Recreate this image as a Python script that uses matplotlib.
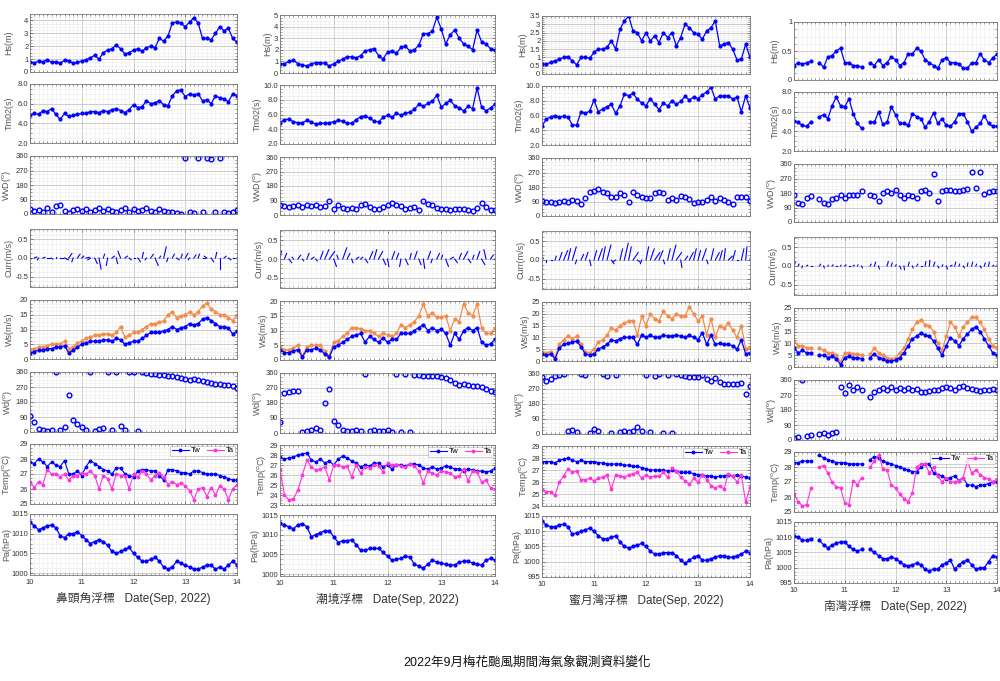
import numpy as np
import matplotlib
matplotlib.use('Agg')
import matplotlib.pyplot as plt
from matplotlib.ticker import MultipleLocator, AutoMinorLocator, FormatStrFormatter, FuncFormatter

plt.rcParams['font.family'] = ['Liberation Sans Narrow', 'Liberation Sans', 'Noto Sans CJK TC', 'DejaVu Sans']

nan = np.nan
hours = np.arange(0, 97, 2)          # every 2 h, 10 Sep 00:00 -> 14 Sep 00:00
day = 10 + hours / 24

names = ['鼻頭角浮標', '潮境浮標', '蜜月灣浮標', '南灣浮標']
title = '2022年9月梅花颱風期間海氣象觀測資料變化'

# ---- 鼻頭角浮標 ----
hs1 = [0.8,0.7,0.85,0.8,0.95,0.75,0.8,0.7,0.9,0.85,0.7,0.75,0.85,0.95,1.1,1.3,1.0,1.5,1.7,1.8,2.1,1.8,1.4,1.5,1.7,
       1.8,1.6,1.9,2.0,1.9,2.6,2.4,2.8,3.8,3.9,3.8,3.5,3.9,4.2,3.8,2.6,2.6,2.5,3.0,3.5,3.2,3.4,2.6,2.3]
tm1 = [4.8,5.0,4.9,5.3,5.2,5.5,4.9,4.4,5.0,4.7,4.8,4.9,5.0,5.0,5.2,5.2,5.1,5.3,5.2,5.4,5.5,5.3,5.1,5.4,5.9,
       5.6,5.7,6.3,6.0,6.1,6.3,5.9,5.8,6.8,7.3,7.4,6.7,7.0,6.9,7.0,6.3,6.4,6.0,6.8,6.6,6.5,6.2,7.0,6.8]
wvd1 = [30,20,25,15,40,10,50,55,20,5,25,30,20,30,15,25,35,20,30,20,15,25,35,15,30,
        20,25,35,20,15,30,20,10,15,5,0,350,10,5,350,10,350,340,15,350,10,5,15,25]
cu1 = [0.05,0.1,-0.05,0.08,0.1,0.05,0.0,0.1,0.15,0.12,-0.05,0.1,0.08,0.12,-0.1,0.1,0.08,0.05,-0.05,0.1,0.05,-0.1,0.1,0.08,0.05,
       0.1,0.05,-0.05,0.1,0.12,0.05,0.1,-0.05,0.08,0.1,0.05,0.1,-0.05,0.08,0.05,0.1,-0.1,0.1,0.05,0.0,0.08,0.1,0.05,0.05]
cv1 = [-0.02,0.03,-0.05,0.02,0.0,-0.03,0.02,0.0,-0.05,0.12,-0.1,0.1,0.05,0.02,-0.05,-0.15,-0.3,0.1,-0.2,0.05,-0.15,0.18,0.05,-0.05,0.0,
       -0.1,0.15,-0.05,0.1,-0.2,0.05,0.3,-0.1,0.1,-0.05,0.1,0.12,-0.05,0.08,0.1,0.0,0.05,-0.1,0.15,-0.3,0.05,-0.05,0.0,0.02]
ws1 = [2,2.5,3,3,3.5,3.5,4,4,4.5,2,3,4,5,5.5,6,6,6,6.5,6.5,6,7,6.5,5,5.5,6,
       6,7,8,9,9,9,9.5,10,11,10,10.5,11,12,11.5,12,13.5,14,13,12,11,11,10.5,8.5,9.5]
wg1 = [3,3.5,4,4,4.5,5,5,5,6,3.5,4,5.5,6,7,7.5,8,8,8.5,8.5,8,9,11,7.5,8,9,
       9,10,11,12,12,12.5,13,15,16,14,14.5,15,16,15,16,18,19,17,16,15,15,14,13,15]
wd1 = [95,60,20,10,5,10,360,15,30,225,70,50,30,10,360,5,20,25,360,10,360,35,15,360,360,
       5,358,355,350,348,345,340,338,335,330,325,320,315,318,312,305,300,295,290,288,285,280,275,265]
tw1 = [27.8,27.7,28.0,27.8,27.5,27.8,27.6,27.5,27.9,27.0,27.0,27.2,26.9,27.5,27.9,27.7,27.5,27.3,27.2,27.0,27.4,27.4,27.0,26.9,26.8,
       27.2,27.3,27.3,27.2,27.2,26.9,26.6,27.3,27.3,27.2,27.1,27.1,27.0,27.2,27.2,27.1,27.0,27.0,27.0,26.9,26.8,26.7,26.6,26.6]
ta1 = [26.5,26.1,26.5,26.3,27.3,27.0,27.0,26.8,27.0,26.6,26.9,26.9,27.1,27.0,27.2,26.9,26.0,26.9,26.7,26.0,27.0,26.9,26.9,26.0,27.0,
       26.8,27.2,27.0,26.6,26.9,27.1,26.8,26.3,26.5,26.3,26.4,26.2,25.9,25.3,26.0,26.1,25.5,26.1,25.6,26.2,26.0,25.3,26.0,26.3]
pa1 = [1013,1012,1011,1011.5,1012,1012.2,1011.5,1009.5,1009,1010,1010,1010.5,1009.5,1008.5,1007.5,1008,1008.5,1008,1007,1005.5,
       1005,1005.5,1006,1006.5,1005,1004,1003,1003,1003.5,1004,1003,1001.5,1001,1001.5,1003,1002.5,1002,1001.5,1001,1001,
       1001.5,1002,1002,1001,1001.5,1001,1002,1003,1002]

# ---- 潮境浮標 ----
hs2 = [0.8,0.8,1.0,1.1,0.8,0.7,0.6,0.8,0.9,0.9,0.85,0.6,0.8,1.0,1.2,1.4,1.4,1.3,1.5,1.9,2.0,2.1,1.5,1.2,1.8,
       1.9,1.7,2.2,2.3,1.9,2.0,2.4,3.4,3.4,3.6,4.8,3.8,2.5,3.3,3.7,3.0,2.5,2.3,2.0,3.7,2.7,2.5,2.1,2.0]
tm2 = [4.9,5.3,5.4,5.0,4.9,4.9,5.2,5.0,4.7,4.8,4.8,4.9,5.0,5.2,5.1,4.8,4.8,5.3,5.7,5.8,5.5,5.1,5.0,5.6,5.9,
       5.6,6.2,5.9,6.2,6.3,6.7,7.4,7.1,7.5,7.8,8.6,7.0,7.5,7.9,7.2,6.9,6.5,7.1,6.8,9.6,7.0,6.5,6.9,7.4]
wvd2 = [60,55,50,55,60,50,65,55,60,50,55,90,40,60,45,40,45,40,60,70,50,40,35,50,60,
        75,60,55,40,45,50,30,85,70,60,45,35,40,30,40,35,40,30,25,45,75,50,30,30]
cu2 = [0.05,0.08,0.1,-0.05,0.1,0.05,0.08,0.1,0.05,0.1,0.15,0.2,0.1,-0.05,0.15,0.1,0.05,0.1,0.08,0.1,0.12,0.1,0.15,0.1,0.05,
       0.1,0.08,-0.05,0.1,0.05,0.1,0.08,0.05,0.1,-0.05,0.1,0.05,0.1,0.12,0.1,0.08,0.15,0.1,0.05,0.1,0.12,-0.08,0.1,0.05]
cv2 = [0.2,0.15,-0.1,0.05,0.1,-0.05,0.15,0.05,-0.05,0.2,0.25,0.2,-0.2,0.1,0.3,0.15,-0.1,0.05,0.05,-0.1,0.2,0.25,0.2,-0.15,-0.2,
       0.2,0.15,-0.2,-0.15,0.15,0.2,-0.15,-0.25,0.2,-0.1,0.15,0.1,-0.2,0.05,-0.1,0.15,0.2,-0.1,0.1,0.2,-0.15,0.25,0.1,-0.15]
ws2 = [3.5,2.5,2.5,3,3.5,1,3.5,3.5,4,3.5,2,1,4.5,5,6,7,8,8.5,9,6,8,7,6,7.5,6,
       7,7,9,9,9,10,11,12,10,11,10,10.5,9,5,9,7,10,11,10,11,6,5,5.5,7]
wg2 = [4.5,3.5,3.5,4,5,1.5,4.5,5,5,5,3,1.5,6,6.5,8,9,11,11,10.5,10,10,9,8,9,8.5,
       8,9,12,11,12,13,15,19,15,16,14.5,14.5,15,10,14,13,19,16,15,19,11,9,9,11]
wd2 = [65,240,245,250,255,5,15,20,30,20,180,265,75,50,20,10,15,20,10,355,10,20,15,10,20,
       5,355,5,355,5,350,350,345,345,340,340,335,330,320,300,290,295,290,285,280,275,265,255,245]
tw2 = [27.8,27.6,27.7,27.8,28.0,28.1,28.2,27.5,27.3,27.6,27.2,27.4,27.0,27.6,27.9,27.7,27.4,27.2,26.8,27.0,26.9,27.2,27.2,26.8,27.0,
       26.6,27.0,27.0,26.9,27.1,27.1,27.0,26.7,26.6,26.8,26.6,26.7,26.9,26.8,26.6,26.6,26.4,26.6,26.5,26.4,26.4,26.3,26.4,26.7]
ta2 = [26.5,24.0,23.5,23.6,24.5,26.0,27.5,26.8,26.5,26.6,26.8,25.5,27.0,27.0,26.8,26.9,25.8,27.0,26.2,26.8,26.7,27.0,26.9,26.3,27.2,
       27.0,27.0,26.9,26.8,27.1,26.9,26.4,25.2,26.4,26.2,26.0,26.4,26.3,26.2,25.8,25.9,26.6,25.4,26.4,26.3,25.3,25.5,24.7,24.6]
pa2 = [1013,1012.5,1012,1011.5,1012.5,1012.8,1012,1009.5,1010,1010.5,1011,1011,1009.5,1008,1008.5,1008.5,1008.7,1007.5,1006,1006,
       1006.5,1006.5,1006.5,1005.5,1004.5,1003.5,1003.7,1004,1004.5,1004.3,1002.5,1002,1001.5,1002.5,1003.5,1003,1002.8,1002.5,1002.3,1002.3,
       1003,1003.3,1003.2,1002.8,1002.5,1002.3,1003.5,1004,1003.5]

# ---- 蜜月灣浮標 ----
hs3 = [0.6,0.6,0.7,0.8,0.9,1.0,1.05,0.8,0.55,1.0,1.0,0.95,1.3,1.5,1.5,1.6,2.0,1.5,2.7,3.2,3.5,2.6,2.5,2.0,2.5,
       2.0,2.3,1.9,2.5,2.2,2.5,1.7,2.2,3.0,2.8,2.5,2.4,2.1,2.6,2.8,3.2,1.7,1.8,1.9,1.5,0.85,0.9,1.8,1.0]
tm3 = [4.6,5.5,5.8,6.0,5.8,5.9,5.8,4.7,4.7,6.5,6.3,6.6,8.1,6.5,6.9,7.2,7.5,6.3,7.3,8.9,8.7,9.0,8.2,7.7,7.3,
       8.3,7.5,6.8,7.7,7.3,8.0,7.5,7.9,8.6,8.1,8.5,8.3,8.8,9.2,9.8,8.2,8.7,8.6,8.7,8.2,8.5,6.5,8.7,7.0]
wvd3 = [95,85,90,80,90,95,85,100,95,75,110,150,155,170,150,145,115,120,145,130,90,150,130,115,110,
        110,145,150,140,100,110,100,125,115,105,80,85,85,100,120,95,110,100,90,75,120,115,115,95]
cu3 = [0.05,0.0,0.05,0.05,0.1,0.15,0.1,0.15,-0.05,0.1,0.1,0.05,0.1,0.15,0.1,0.15,0.1,-0.1,0.1,0.15,0.1,0.2,0.1,-0.05,0.1,
       0.15,0.2,0.15,0.05,0.1,0.15,0.2,0.05,0.1,0.15,0.1,0.1,0.15,0.05,0.1,0.15,0.1,0.05,0.15,0.1,0.05,0.1,0.05,0.1]
cv3 = [0.05,-0.05,0.0,0.1,0.2,0.25,0.3,0.35,-0.1,0.15,0.2,-0.15,0.25,0.3,0.35,0.4,-0.1,-0.05,0.3,0.45,0.35,0.2,-0.05,-0.1,0.35,
       0.3,0.2,0.25,-0.1,0.3,0.4,0.2,-0.2,0.1,0.2,0.3,0.25,0.3,-0.1,0.3,0.2,0.25,0.3,0.1,0.25,0.0,0.3,0.35,0.4]
ws3 = [3,2.5,3,1,5.5,7,7.5,8,8.5,6,3,2.5,3,5,6,7,9,8.5,9.5,10,10,10,7,11,10,
       11,10,10,11,10.5,10.5,11,10.5,10,11,10,9,12,7,11,7,7.5,7,7,6.5,5,9,3,3.5]
wg3 = [4,3.5,4,1.5,7,9,10.5,9.5,10.5,7,4,3.5,5,8,9,11,14,13,15,16,17,17,11,19,15,
       20,18,17,21,19,18,20,19,19,23,20,17,19,11,18,10,15,14,16,13,10,15,5,6]
wd3 = [345,320,330,350,355,360,20,25,15,360,355,5,30,20,360,350,5,355,15,20,10,20,40,20,355,
       10,350,360,5,355,5,360,355,350,345,345,340,355,330,320,335,310,300,300,300,300,305,240,290]
tw3 = [27.7,27.7,27.7,27.6,27.8,27.9,28.0,27.8,27.7,27.8,27.7,27.7,27.7,27.6,27.6,27.5,27.5,27.5,27.5,27.4,27.4,27.3,27.3,27.2,27.1,
       27.0,27.0,27.0,27.0,26.9,27.0,26.9,26.8,26.8,26.8,26.7,26.6,26.6,26.5,26.5,26.4,26.5,26.5,26.6,26.5,26.6,26.5,26.4,26.3]
ta3 = [25.4,25.2,25.2,24.9,26.0,26.5,27.1,26.8,26.9,26.2,26.2,26.3,26.1,26.3,26.4,26.6,25.4,26.6,26.5,26.4,26.6,26.7,26.8,26.3,26.6,
       26.4,26.5,26.5,26.8,26.4,27.2,26.9,26.4,26.1,25.8,26.3,26.0,26.6,26.2,25.7,25.5,25.7,25.4,26.7,26.5,26.0,26.6,24.3,25.6]
pa3 = [1013.5,1012,1011.5,1011.5,1012,1012.3,1011.5,1009,1009.5,1010,1010.5,1011,1010,1008.5,1007.5,1007.5,1008,1008.5,1006.5,1005,
       1004.5,1005,1005.5,1006,1005,1003.5,1002.5,1002.5,1003,1003,1003,1002,1000.5,999.5,1000.5,1001.5,1002,1000.5,1000.5,1001,
       1001.5,1002,1002,1001.5,1001.5,1002,1002.5,1003.5,1003]

# ---- 南灣浮標 (gaps = no data) ----
hs4 = [0.25,0.3,0.27,0.3,0.32,nan,0.3,0.22,0.4,0.42,0.5,0.55,0.3,0.3,0.25,0.25,0.22,nan,0.3,0.25,0.35,0.25,0.3,0.4,0.35,
       0.25,0.3,0.45,0.45,0.55,0.5,0.35,0.3,0.25,0.2,0.35,0.38,0.3,0.3,0.28,0.2,0.2,0.3,0.3,0.45,0.35,0.3,0.38,0.45]
tm4 = [5.1,4.9,4.6,4.5,5.0,nan,5.5,5.7,5.3,6.6,7.5,6.6,6.5,7.3,5.8,4.8,4.3,nan,5.0,4.9,6.0,4.7,4.9,6.5,5.7,
       4.8,4.8,4.6,5.8,5.5,5.3,4.4,5.0,5.9,4.8,5.3,4.6,4.5,5.0,5.8,5.8,5.0,4.0,4.4,4.8,5.6,4.8,4.5,4.5]
wvd4 = [165,120,110,150,160,nan,140,120,110,140,150,170,150,170,170,170,190,nan,170,160,130,180,190,180,200,
        170,150,170,160,150,190,200,180,300,130,190,200,200,195,190,200,205,310,210,310,175,185,190,190]
cu4 = [0.05,0.03,-0.02,0.04,0.03,nan,0.05,0.03,0.02,0.04,0.03,0.02,0.05,0.03,0.04,0.02,0.03,nan,0.04,0.05,0.03,0.02,0.05,0.04,0.03,
       0.05,0.02,0.04,0.03,0.05,0.04,0.03,0.02,0.05,0.04,0.03,0.05,0.06,0.04,0.03,0.05,0.02,0.04,0.03,0.05,0.04,0.03,0.04,0.05]
cv4 = [0.1,0.05,-0.05,0.02,0.0,nan,0.05,-0.05,0.02,0.03,0.0,0.02,0.03,0.0,0.02,0.03,-0.05,nan,0.05,0.1,-0.08,0.0,0.12,0.08,0.03,
       -0.08,-0.1,0.1,-0.05,0.05,0.0,0.12,0.15,0.1,-0.05,0.03,-0.08,0.02,0.1,0.05,-0.05,0.08,0.1,0.05,-0.05,0.08,0.1,0.02,0.15]
ws4 = [8,6,7,6,6,nan,5,5,4,4.5,3.5,1,4,4.5,4,4,3.5,nan,4,5.5,4,3.5,2.5,2.5,3,
       4,6,9,12,13,14.5,13.5,13,11,8,5,9,12.5,11,9,12,14,16,17,15,12,9,6,5]
wg4 = [11,9,9,8,8,nan,8,7,6,6,5,2,6,6,5.5,5.5,5,nan,5.5,8,6,5,4,3.5,4,
       6,8,12,16,19,20,18,17.5,15,10,7,13,19,17,13,17,19,21,21,19,16,12,9,8]
wd4 = [10,20,360,25,30,nan,35,40,30,45,50,320,280,330,300,320,300,nan,260,290,300,310,300,320,300,
       310,300,310,300,305,290,290,295,300,300,310,320,310,300,320,325,310,305,300,295,300,300,305,300]
tw4 = [28.3,28.3,28.4,28.4,28.4,nan,28.8,28.6,28.5,28.4,28.3,28.3,28.3,28.2,28.2,28.2,28.2,nan,28.5,28.7,28.6,28.4,28.3,28.2,28.1,
       28.0,27.9,27.8,27.7,27.7,28.0,28.2,28.2,27.6,27.5,27.4,27.2,27.3,27.4,27.1,27.3,26.8,26.8,26.7,26.8,26.8,26.9,27.0,27.0]
ta4 = [26.2,25.7,25.4,25.5,26.6,nan,28.0,28.1,27.6,27.0,26.7,26.6,25.6,25.5,27.1,26.8,27.3,nan,28.0,28.4,28.8,27.9,27.8,26.8,26.6,
       26.2,25.9,25.7,26.3,28.0,28.2,28.2,27.6,28.0,27.4,27.0,27.3,27.0,27.0,27.1,27.3,28.4,27.6,27.8,27.5,27.3,27.2,27.0,27.2]
pa4 = [1010.5,1010,1009,1009,1009.5,nan,1009,1007.5,1006.5,1007.5,1008,1008.5,1008.5,1007,1006,1005.5,1006,nan,1006,1005,
       1004,1003,1003,1003.5,1003,1002,1001,1000.5,1001,1001.5,1001,999.5,999,999.5,999.5,1001,1001.5,1002.5,999.5,1001,
       1002,1002.5,1001,999.5,1000,1000,1002,1004,1003.5]

hs = [hs1, hs2, hs3, hs4]
tm = [tm1, tm2, tm3, tm4]
wvd = [wvd1, wvd2, wvd3, wvd4]
cu = [cu1, cu2, cu3, cu4]
cv = [cv1, cv2, cv3, cv4]
ws = [ws1, ws2, ws3, ws4]
wg = [wg1, wg2, wg3, wg4]
wd = [wd1, wd2, wd3, wd4]
tw = [tw1, tw2, tw3, tw4]
ta = [ta1, ta2, ta3, ta4]
pa = [pa1, pa2, pa3, pa4]

# axis settings per station
hs_lim = [(0, 4.5), (0, 5), (0, 3.5), (0, 1)]
hs_step = [1, 1, 0.5, 0.5]
tm_lim = [(2, 8), (2, 10), (2, 10), (2, 8)]
ws_lim = [(0, 20), (0, 20), (0, 25), (0, 25)]
temp_lim = [(25, 29), (23, 29), (24, 29), (25, 29)]
pa_lim = [(999.5, 1015), (999.5, 1015), (995, 1015), (995, 1015)]

BLUE = '#0000ff'
ORANGE = '#f28c4a'
MAG = '#ff33dd'

W, H = 1000, 681
fig = plt.figure(figsize=(W / 100, H / 100), dpi=100)

col_x = [(30, 237), (280, 495), (542, 750), (794, 997)]
rows = [(14, 72), (84, 143), (156, 214), (229, 287), (300, 359), (372, 432), (444, 504), (514, 575)]
col_dy = [0, 1, 2, 8]


def make_ax(c, r):
    x0, x1 = col_x[c]
    y0, y1 = rows[r]
    y0 += col_dy[c]
    y1 += col_dy[c]
    return fig.add_axes([x0 / W, 1 - y1 / H, (x1 - x0) / W, (y1 - y0) / H])


def style(ax, c, ylim, step, ylabel, fmt=None, bottom=False, lab_px=13.5):
    ax.set_xlim(10, 14)
    ax.set_ylim(*ylim)
    ax.xaxis.set_major_locator(MultipleLocator(1))
    ax.xaxis.set_minor_locator(MultipleLocator(1 / 12))
    ax.yaxis.set_major_locator(MultipleLocator(step))
    ax.yaxis.set_minor_locator(AutoMinorLocator(4))
    if fmt is not None:
        ax.yaxis.set_major_formatter(fmt)
    ax.grid(True, which='major', color='#c4c4c4', lw=0.6)
    ax.grid(True, which='minor', color='#ebebeb', lw=0.4)
    ax.set_axisbelow(True)
    ax.tick_params(which='both', direction='in', top=True, right=True,
                   labelsize=5.5, colors='#555555', labelcolor='#333333', pad=1.2)
    ax.tick_params(which='major', length=2.5, width=0.5)
    ax.tick_params(which='minor', length=1.2, width=0.4)
    ax.tick_params(labelbottom=bottom)
    for s in ax.spines.values():
        s.set_color('#7a7a7a')
        s.set_linewidth(0.6)
    ax.set_ylabel(ylabel, fontsize=6.5, color='#555555', labelpad=1.5)
    if c == 0:
        # first column sits close to the figure edge: pin the label there
        x0, x1 = col_x[0]
        ax.yaxis.set_label_coords((lab_px - x0) / (x1 - x0), 0.5)


g_fmt = FuncFormatter(lambda v, p: '%g' % v)
f1_fmt = FormatStrFormatter('%.1f')
line_kw = dict(color=BLUE, lw=0.9, marker='.', ms=4)
ring_kw = dict(ls='none', marker='o', mfc='none', mec=BLUE, mew=1.0, ms=3.4)

for c in range(4):
    # Hs
    ax = make_ax(c, 0)
    ax.plot(day, hs[c], **line_kw)
    style(ax, c, hs_lim[c], hs_step[c], 'Hs(m)', g_fmt)

    # Tm02
    ax = make_ax(c, 1)
    ax.plot(day, tm[c], **line_kw)
    style(ax, c, tm_lim[c], 2, 'Tm02(s)', f1_fmt)

    # wave direction
    ax = make_ax(c, 2)
    ax.plot(day, wvd[c], **ring_kw)
    style(ax, c, (0, 360), 90, r'WvD($^{\rm o}$)')

    # current sticks
    ax = make_ax(c, 3)
    for t, u, v in zip(day, cu[c], cv[c]):
        if np.isnan(u):
            continue
        ax.plot([t, t + 0.5 * u], [0, v], color=BLUE, lw=0.8)
    style(ax, c, (-0.78, 0.78), 0.5, 'Curr(m/s)', f1_fmt)

    # wind speed / gust
    ax = make_ax(c, 4)
    ax.plot(day, wg[c], color=ORANGE, lw=0.9, marker='.', ms=4)
    ax.plot(day, ws[c], **line_kw)
    style(ax, c, ws_lim[c], 5, 'Ws(m/s)')

    # wind direction
    ax = make_ax(c, 5)
    ax.plot(day, wd[c], **ring_kw)
    style(ax, c, (0, 360), 90, r'Wd($^{\rm o}$)')

    # temperature
    ax = make_ax(c, 6)
    ax.plot(day, tw[c], color=BLUE, lw=0.8, marker='.', ms=3.5, label='Tw')
    ax.plot(day, ta[c], color=MAG, lw=0.8, marker='.', ms=3.5, label='Ta')
    style(ax, c, temp_lim[c], 1, r'Temp($^{\rm o}$C)')
    leg = ax.legend(loc='upper right', fontsize=5.5, ncol=2, frameon=True, handlelength=2.2,
                    borderpad=0.2, columnspacing=0.8, handletextpad=0.3, borderaxespad=0.2)
    leg.get_frame().set_linewidth(0.4)
    leg.get_frame().set_edgecolor('#999999')
    leg.get_frame().set_boxstyle('square', pad=0)

    # pressure
    ax = make_ax(c, 7)
    ax.plot(day, pa[c], **line_kw)
    style(ax, c, pa_lim[c], 5, 'Pa(hPa)', bottom=True, lab_px=11.5)
    ax.tick_params(axis='x', pad=3)
    ax.set_xticks([10, 11, 12, 13, 14])
    ax.set_xticklabels(['10', '11', '12', '13', '14'])
    ax.set_xlabel(names[c] + '   Date(Sep, 2022)', fontsize=8.5, color='#333333', labelpad=4)

fig.text(0.527, 1 - 663 / H, title, ha='center', va='center', fontsize=9, color='#111111')

fig.savefig('out.png', dpi=100)
